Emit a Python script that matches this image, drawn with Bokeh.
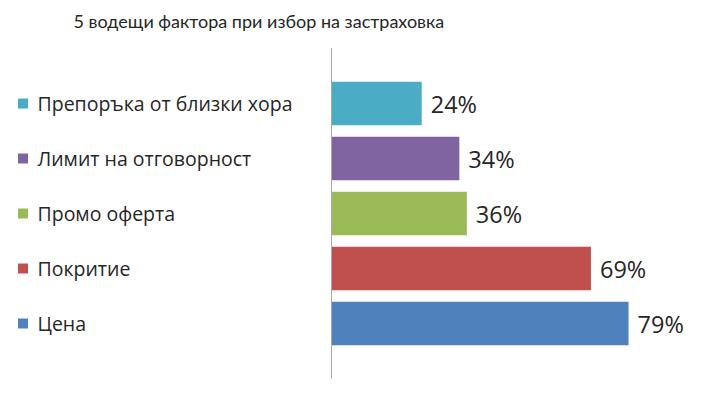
from bokeh.plotting import figure
from bokeh.models import Range1d, ColumnDataSource
from bokeh.core.properties import value
from bokeh.embed import file_html
from bokeh.resources import INLINE

title_text = "5 водещи фактора при избор на застраховка"
categories = ["Цена", "Покритие", "Промо оферта", "Лимит на отговорност", "Препоръка от близки хора"]
values = [79, 69, 36, 34, 24]
value_labels = ["79%", "69%", "36%", "34%", "24%"]
colors = ["#4F81BD", "#C0504D", "#9BBB59", "#8064A2", "#4BACC6"]

positions = list(range(len(categories)))

# layout (pixels)
W, H = 702, 394
top_px, bottom_px = 48, 16          # space above / below the axis line
axis_px = 331                        # x pixel of the value-axis line
px_per_unit = 3.76                   # pixels per percent
slot_px = (H - top_px - bottom_px) / (len(categories) + 1)

x_start = -axis_px / px_per_unit
x_end = (W - axis_px) / px_per_unit
y_lo, y_hi = -1, len(categories)     # axis line extent in category units
y_start = y_lo - bottom_px / slot_px
y_end = y_hi + top_px / slot_px

FONT = "Open Sans"
TXT = "#262626"

src = ColumnDataSource(dict(y=positions, v=values, lab=value_labels, cat=categories, col=colors,
                            lx=[x_start] * len(categories),
                            sx=[x_start + 22.5 / px_per_unit] * len(categories)))

p = figure(width=W, height=H, output_backend="svg", toolbar_location=None,
           x_range=Range1d(x_start, x_end), y_range=Range1d(y_start, y_end),
           min_border=0)
p.axis.visible = False
p.grid.visible = False
p.outline_line_color = None
p.background_fill_color = "white"

# title
p.text(x=[x_start], y=[y_end - 20 / slot_px], text=[title_text], x_offset=73,
       text_baseline="middle", text_align="left",
       text_font=value("Lato"), text_font_size="18px", text_color=TXT)

# bars
p.hbar(y="y", right="v", left=0, height=0.79, fill_color="col", line_color=None, source=src)

# value axis line
p.segment(x0=[0], y0=[y_lo], x1=[0], y1=[y_hi], line_color="#A6A6A6", line_width=1)

# value labels
p.text(x="v", y="y", text="lab", x_offset=9, text_baseline="middle", text_align="left",
       text_font=value(FONT), text_font_size="23.5px", text_color=TXT, source=src)

# legend-like category labels
p.rect(x="sx", y="y", width=10, height=10, width_units="screen", height_units="screen",
       fill_color="col", line_color=None, source=src)
p.text(x="lx", y="y", text="cat", x_offset=37, text_baseline="middle", text_align="left",
       text_font=value(FONT), text_font_size="19.5px", text_color=TXT, source=src)

open("out.html", "w").write(file_html(p, INLINE))
